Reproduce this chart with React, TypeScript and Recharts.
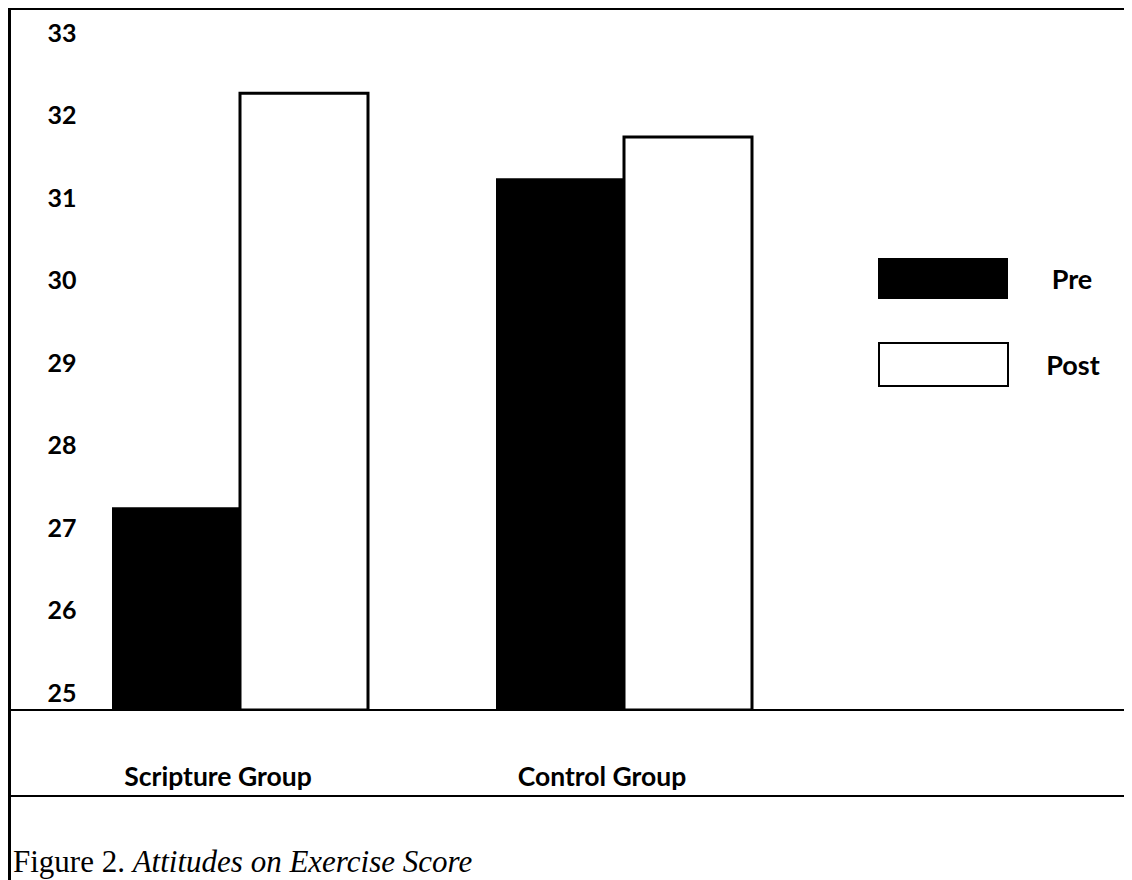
import { BarChart, Bar, XAxis, YAxis, Legend } from 'recharts';

const groups = ['Scripture Group', 'Control Group'];
const preScores = [27.25, 31.24];
const postScores = [32.27, 31.74];
const yTicks = [25, 26, 27, 28, 29, 30, 31, 32, 33];
const seriesNames = ['Pre', 'Post'];

const data = groups.map((group, i) => ({ group, pre: preScores[i], post: postScores[i] }));

const labelFont = 'Lato, "Open Sans", sans-serif';

const YTick = ({ x, y, payload }: any) => (
  <text
    x={x}
    y={y}
    dx={51}
    dy="0.36em"
    textAnchor="middle"
    fill="#000"
    fontFamily={labelFont}
    fontWeight={700}
    fontSize={25}
  >
    {payload.value}
  </text>
);

const XTick = ({ x, y, payload }: any) => (
  <text
    x={x}
    y={y}
    dx={-22}
    dy={76}
    textAnchor="middle"
    fill="#000"
    fontFamily={labelFont}
    fontWeight={700}
    fontSize={26.5}
  >
    {payload.value}
  </text>
);

// legend keeps the series order (Pre, then Post)
const LegendBox = ({ payload }: any) => {
  const items = seriesNames
    .map((name) => (payload || []).find((p: any) => p.value === name))
    .filter(Boolean);
  return (
    <div style={{ fontFamily: labelFont, fontWeight: 700, fontSize: 27 }}>
      {items.map((entry: any, i: number) => {
        const filled = entry.value === seriesNames[0];
        return (
          <div key={entry.value} style={{ display: 'flex', alignItems: 'center', marginTop: i === 0 ? 0 : 43 }}>
            <div
              style={{
                width: filled ? 130 : 131,
                height: filled ? 41 : 45,
                boxSizing: 'border-box',
                background: filled ? '#000' : '#fff',
                border: filled ? 'none' : '2px solid #000',
              }}
            />
            <span style={{ width: 128, textAlign: 'center', color: '#000' }}>{entry.value}</span>
          </div>
        );
      })}
    </div>
  );
};

export default function App() {
  return (
    <div
      style={{
        width: 1124,
        height: 872,
        boxSizing: 'border-box',
        borderLeft: '3px solid #000',
        borderTop: '2px solid #000',
        background: '#fff',
      }}
    >
      <div style={{ height: 785, borderBottom: '2px solid #000', position: 'relative' }}>
        <BarChart
          width={1121}
          height={785}
          data={data}
          margin={{ top: 23, right: 0, left: 0, bottom: 0 }}
          barCategoryGap={64}
          barGap={0}
        >
          <XAxis
            dataKey="group"
            interval={0}
            height={85}
            padding={{ left: 37, right: 316 }}
            axisLine={{ stroke: '#000', strokeWidth: 2 }}
            tickLine={false}
            tickSize={0}
            tickMargin={0}
            tick={<XTick />}
          />
          <YAxis
            type="number"
            domain={[24.79, 33]}
            ticks={yTicks}
            allowDataOverflow
            mirror
            axisLine={false}
            tickLine={false}
            tickSize={0}
            tickMargin={0}
            tick={<YTick />}
          />
          <Legend
            layout="horizontal"
            verticalAlign="middle"
            align="center"
            content={<LegendBox />}
            wrapperStyle={{ left: 867, top: 248, width: 260 }}
          />
          <Bar dataKey="pre" name={seriesNames[0]} fill="#000" isAnimationActive={false} />
          <Bar
            dataKey="post"
            name={seriesNames[1]}
            fill="#fff"
            stroke="#000"
            strokeWidth={3}
            isAnimationActive={false}
          />
        </BarChart>
      </div>
      <div
        style={{
          paddingTop: 47,
          paddingLeft: 2,
          fontFamily: '"Liberation Serif", "Times New Roman", serif',
          fontSize: 31,
          color: '#000',
          whiteSpace: 'nowrap',
        }}
      >
        Figure 2. <i>Attitudes on Exercise Score</i>
      </div>
    </div>
  );
}
